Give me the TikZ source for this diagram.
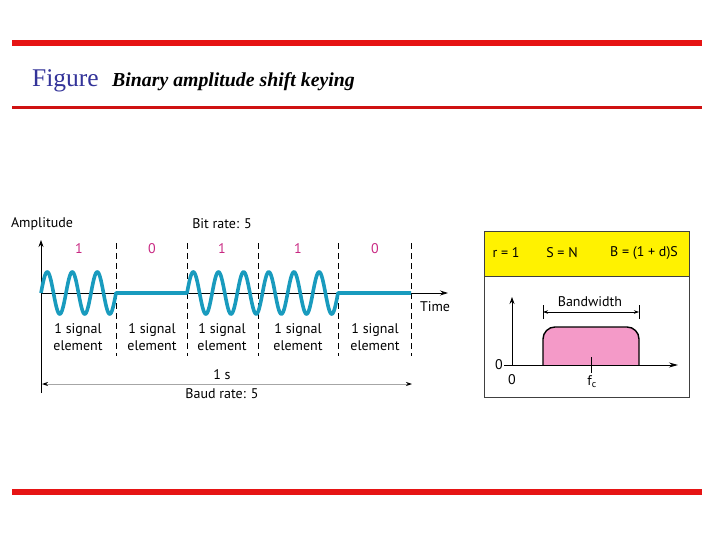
\documentclass[tikz,border=0pt]{standalone}
\usepackage{fontspec}
\setmainfont{Liberation Serif}
\newfontfamily\diagfont{PT Sans}
\usetikzlibrary{arrows.meta}
\definecolor{redline}{RGB}{230,20,20}
\definecolor{figblue}{RGB}{51,51,153}
\definecolor{wavec}{RGB}{25,155,190}
\definecolor{bitc}{RGB}{200,40,130}
\definecolor{pinkc}{RGB}{244,154,200}
\definecolor{yel}{RGB}{255,242,0}
\tikzset{
  lbl/.style={font=\diagfont\fontsize{14}{16}\selectfont, inner sep=0pt},
  bitlbl/.style={lbl, text=bitc},
  wave/.style={wavec, line width=3.6pt, line join=round},
  divider/.style={black, line width=0.9pt, dash pattern=on 6pt off 4pt},
  axis/.style={black, line width=0.8pt},
}
\begin{document}
\begin{tikzpicture}[x=1pt,y=-1pt]
\useasboundingbox (0,0) rectangle (720,540);
% red rules
\fill[redline] (12,40) rectangle (702,46);
\fill[redline!90!black] (12,106.5) rectangle (702,109.5);
\fill[redline] (12,489) rectangle (702,495);
% title
\node[anchor=base west, inner sep=0pt, text=figblue, font=\fontsize{25.5}{28}\selectfont] (fig) at (32,87) {Figure};
\node[anchor=base west, inner sep=0pt, font=\fontsize{19.8}{22}\selectfont\bfseries\itshape] (title) at (112,87) {Binary amplitude shift keying};

% ---- left diagram ----
\coordinate (vtop) at (41,240);
\coordinate (vbot) at (41,393);
\coordinate (h0) at (41,293);
\coordinate (hend) at (448,293);
\draw[axis, -{Stealth[length=7pt,width=5pt]}] (vbot) -- (vtop);
\draw[axis, -{Stealth[length=8pt,width=5pt]}] (h0) -- (hend);
\node[lbl, anchor=north] (time) at (435,301) {Time};
% dashed dividers
\foreach \xx/\nm in {116/d1,187/d2,258/d3,338/d4,411/d5}{
  \coordinate (\nm t) at (\xx,243);
  \coordinate (\nm b) at (\xx,356);
  \draw[divider] (\nm t) -- (\nm b);
}
% waves
\draw[wave] plot[domain=41:116, samples=160] (\x, {293-21*sin(14.4*(\x-41))})
  -- (187,293)
  -- plot[domain=187:338, samples=300] (\x, {293-21*sin(14.305*(\x-187))})
  -- (411,293);
% bit labels
\node[bitlbl] (b1) at (79,249) {1};
\node[bitlbl] (b2) at (152,249) {0};
\node[bitlbl] (b3) at (222,249) {1};
\node[bitlbl] (b4) at (298,249) {1};
\node[bitlbl] (b5) at (375,249) {0};
% signal element labels
\foreach \xx/\nm in {78/s1,152/s2,222/s3,298/s4,375/s5}{
  \node[lbl, align=center, font=\diagfont\fontsize{14}{16.5}\selectfont] (\nm) at (\xx,337) {1 signal\\element};
}
\node[lbl] (amp) at (42,224) {Amplitude};
\node[lbl] (bitrate) at (222,224) {Bit rate: 5};
\node[lbl] (ones) at (222,375) {1 s};
\node[lbl] (baud) at (222,394) {Baud rate: 5};
\coordinate (al) at (42,384);
\coordinate (ar) at (412,384);
\draw[gray!70, line width=0.8pt, {Stealth[length=6pt,width=4pt,black]}-{Stealth[length=6pt,width=4pt,black]}] (al) -- (ar);

% ---- right box ----
\fill[yel] (484,231) rectangle (689,276);
\draw[black!75, line width=0.9pt] (484,231) rectangle (689,397);
\draw[black!75, line width=0.7pt] (484,276) -- (689,276);
\node[lbl] (r) at (506,253) {r = 1};
\node[lbl] (sn) at (562,253) {S = N};
\node[lbl] (bw) at (644,253) {B = (1 + d)S};
% spectrum plot
\coordinate (pv0) at (512,365);
\coordinate (pvt) at (512,297);
\coordinate (ph0) at (504,365);
\coordinate (phe) at (678,365);
\draw[axis, line width=0.7pt, -{Stealth[length=7pt,width=5pt]}] (pv0) -- (pvt);
\draw[fill=pinkc, draw=black, line width=1.4pt, rounded corners=12pt] (543,365) -- (543,327) -- (639,327) -- (639,365);
\draw[axis, line width=0.9pt, -{Stealth[length=9pt,width=5pt]}] (ph0) -- (phe);
\coordinate (fct) at (591,357);
\coordinate (fcb) at (591,373);
\draw[black, line width=1pt] (fct) -- (fcb);
\node[lbl] (y0) at (499,365) {0};
\node[lbl] (x0) at (512,380) {0};
\node[lbl] (fc) at (592,382) {f\textsubscript{c}};
\coordinate (bwl) at (543,312);
\coordinate (bwr) at (639,312);
\draw[black, line width=0.7pt] (543,305) -- (543,319) (639,305) -- (639,319);
\draw[black, line width=0.6pt, {Stealth[length=5pt,width=3.5pt]}-{Stealth[length=5pt,width=3.5pt]}] (bwl) -- (bwr);
\node[lbl] (bwlbl) at (590,302) {Bandwidth};
\end{tikzpicture}
\end{document}
